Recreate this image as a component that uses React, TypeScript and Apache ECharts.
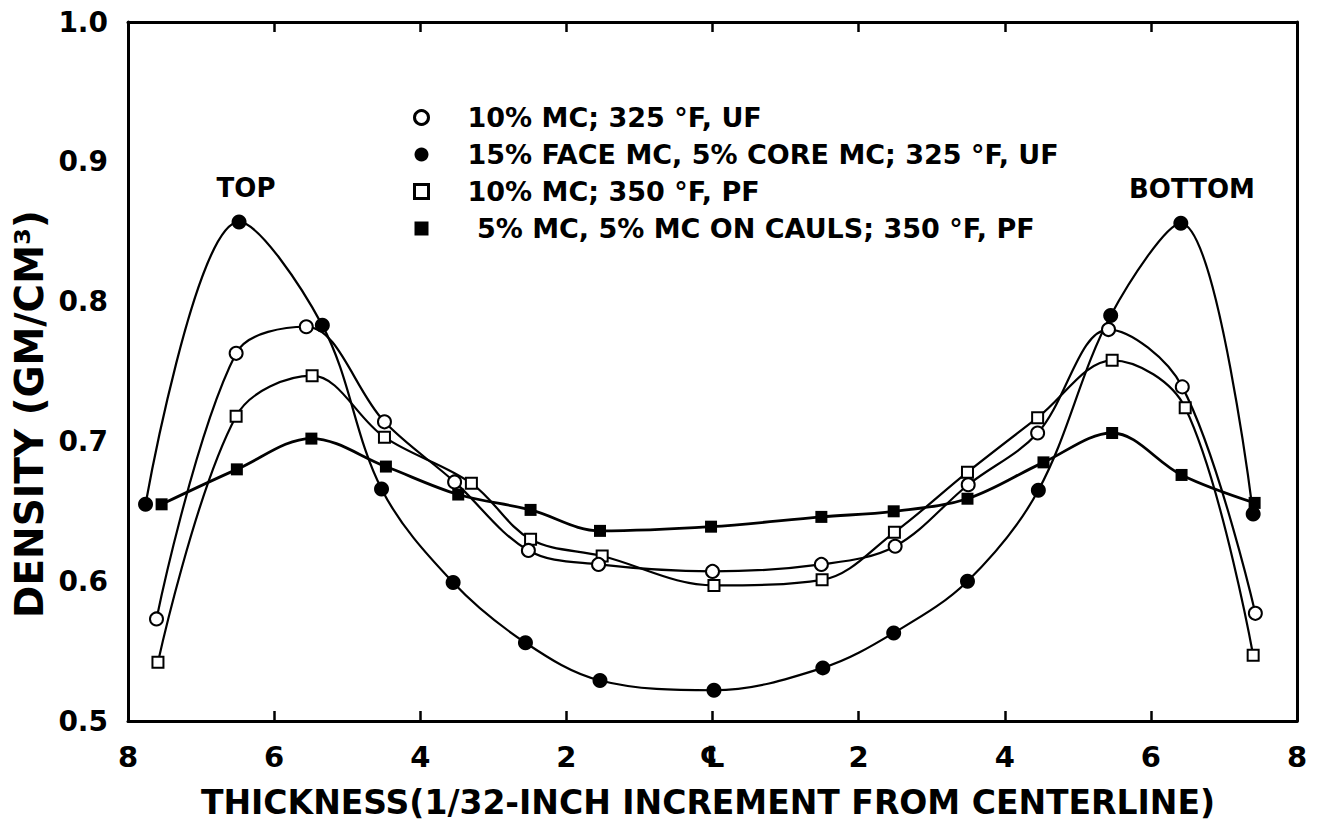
import React, { useEffect, useRef } from "react";
import * as echarts from "echarts";

// ---- data (x: 1/32-inch increments from centerline, negative = top side) ----
const seriesNames = [
  "10% MC; 325 °F, UF",
  "15% FACE MC, 5% CORE MC; 325 °F, UF",
  "10% MC; 350 °F, PF",
  " 5% MC, 5% MC ON CAULS; 350 °F, PF",
];

const xOpenCircle = [-7.61, -6.52, -5.56, -4.49, -3.53, -2.52, -1.56, 0, 1.49, 2.5, 3.5, 4.45, 5.42, 6.43, 7.43];
const yOpenCircle = [0.573, 0.763, 0.782, 0.714, 0.671, 0.622, 0.612, 0.607, 0.612, 0.625, 0.669, 0.706, 0.78, 0.739, 0.577];

const xFilledCircle = [-7.76, -6.48, -5.34, -4.53, -3.55, -2.56, -1.54, 0.02, 1.51, 2.48, 3.49, 4.46, 5.45, 6.41, 7.4];
const yFilledCircle = [0.655, 0.857, 0.783, 0.666, 0.599, 0.556, 0.529, 0.522, 0.538, 0.563, 0.6, 0.665, 0.79, 0.856, 0.648];

const xOpenSquare = [-7.59, -6.52, -5.48, -4.49, -3.3, -2.49, -1.51, 0.02, 1.5, 2.49, 3.49, 4.45, 5.47, 6.47, 7.4];
const yOpenSquare = [0.542, 0.718, 0.747, 0.703, 0.67, 0.63, 0.618, 0.597, 0.601, 0.635, 0.678, 0.717, 0.758, 0.724, 0.547];

const xFilledSquare = [-7.54, -6.51, -5.49, -4.47, -3.48, -2.49, -1.54, -0.02, 1.49, 2.48, 3.49, 4.53, 5.47, 6.42, 7.42];
const yFilledSquare = [0.655, 0.68, 0.702, 0.682, 0.662, 0.651, 0.636, 0.639, 0.646, 0.65, 0.659, 0.685, 0.706, 0.676, 0.656];

const xTickLabels: Record<string, string> = { "-8": "8", "-6": "6", "-4": "4", "-2": "2", "0": "℄", "2": "2", "4": "4", "6": "6", "8": "8" };
const yTickLabels = ["0.5", "0.6", "0.7", "0.8", "0.9", "1.0"];

const FONT = "DejaVu Sans";
const BLACK = "#000";

function pairs(xs: number[], ys: number[]) {
  return xs.map((x, i) => [x, ys[i]]);
}

export default function App() {
  const ref = useRef<HTMLDivElement>(null);
  useEffect(() => {
    document.body.style.margin = "0";
    const chart = echarts.init(ref.current!, null, { renderer: "svg" });
    const lineBase = (name: string, xs: number[], ys: number[], symbol: string, size: number, width: number) => ({
      type: "line",
      name,
      data: pairs(xs, ys),
      smooth: 0.35,
      symbol,
      symbolSize: size,
      showAllSymbol: true,
      lineStyle: { color: BLACK, width },
      itemStyle: { color: BLACK, borderColor: BLACK, borderWidth: symbol.startsWith("empty") ? 2.5 : 0 },
      emphasis: { disabled: true },
    });
    const axisLine = { show: true, onZero: false, lineStyle: { color: BLACK, width: 3 } };
    chart.setOption({
      animation: false,
      backgroundColor: "#fff",
      grid: { left: 128, right: 24, top: 22, bottom: 103 },
      xAxis: [
        {
          type: "value",
          min: -8,
          max: 8,
          interval: 2,
          position: "bottom",
          axisLine,
          axisTick: { inside: true, length: 10, lineStyle: { color: BLACK, width: 2.5 } },
          splitLine: { show: false },
          axisLabel: {
            margin: 21,
            color: BLACK,
            fontFamily: FONT,
            fontWeight: "bold",
            fontSize: 29,
            formatter: (v: number) => xTickLabels[String(v)] ?? "",
          },
        },
        {
          type: "value",
          min: -8,
          max: 8,
          interval: 2,
          position: "top",
          axisLine,
          axisTick: { inside: true, length: 10, lineStyle: { color: BLACK, width: 2.5 } },
          splitLine: { show: false },
          axisLabel: { show: false },
        },
      ],
      yAxis: [
        {
          type: "value",
          min: 0.5,
          max: 1.0,
          interval: 0.1,
          position: "left",
          axisLine,
          axisTick: { show: false },
          splitLine: { show: false },
          axisLabel: {
            margin: 20,
            color: BLACK,
            fontFamily: FONT,
            fontWeight: "bold",
            fontSize: 28,
            formatter: (v: number) => yTickLabels[Math.round((v - 0.5) * 10)] ?? "",
          },
        },
        {
          type: "value",
          min: 0.5,
          max: 1.0,
          interval: 0.1,
          position: "right",
          axisLine,
          axisTick: { show: false },
          splitLine: { show: false },
          axisLabel: { show: false },
        },
      ],
      legend: {
        orient: "vertical",
        left: 408,
        top: 99,
        itemWidth: 14,
        itemHeight: 14,
        itemGap: 10,
        selectedMode: false,
        textStyle: {
          fontFamily: FONT,
          fontWeight: "bold",
          fontSize: 27,
          lineHeight: 27,
          color: BLACK,
          padding: [0, 0, 0, 34],
        },
        data: [
          { name: seriesNames[0], icon: "circle", itemStyle: { color: "#fff", borderColor: BLACK, borderWidth: 3 } },
          { name: seriesNames[1], icon: "circle", itemStyle: { color: BLACK, borderWidth: 0 } },
          { name: seriesNames[2], icon: "rect", itemStyle: { color: "#fff", borderColor: BLACK, borderWidth: 3 } },
          { name: seriesNames[3], icon: "rect", itemStyle: { color: BLACK, borderWidth: 0 } },
        ],
      },
      series: [
        lineBase(seriesNames[3], xFilledSquare, yFilledSquare, "rect", 12, 2.8),
        lineBase(seriesNames[1], xFilledCircle, yFilledCircle, "circle", 15, 2.2),
        lineBase(seriesNames[2], xOpenSquare, yOpenSquare, "emptyRect", 11, 2.2),
        lineBase(seriesNames[0], xOpenCircle, yOpenCircle, "emptyCircle", 13, 2.2),
      ],
      graphic: [
        {
          type: "text",
          x: 246,
          y: 188,
          style: { text: "TOP", fontFamily: FONT, fontWeight: "bold", fontSize: 26, fill: BLACK, align: "center", verticalAlign: "middle" },
        },
        {
          type: "text",
          x: 1192,
          y: 189,
          style: { text: "BOTTOM", fontFamily: FONT, fontWeight: "bold", fontSize: 26, fill: BLACK, align: "center", verticalAlign: "middle" },
        },
        {
          type: "text",
          x: 708,
          y: 802,
          style: {
            text: "THICKNESS(1/32-INCH INCREMENT FROM CENTERLINE)",
            fontFamily: FONT,
            fontWeight: "bold",
            fontSize: 33,
            fill: BLACK,
            align: "center",
            verticalAlign: "middle",
          },
        },
        {
          type: "text",
          x: 29,
          y: 414,
          rotation: Math.PI / 2,
          style: {
            text: "DENSITY (GM/CM³)",
            fontFamily: FONT,
            fontWeight: "bold",
            fontSize: 39,
            fill: BLACK,
            align: "center",
            verticalAlign: "middle",
          },
        },
      ],
    });
    return () => chart.dispose();
  }, []);
  return <div ref={ref} style={{ width: 1321, height: 824 }} />;
}
